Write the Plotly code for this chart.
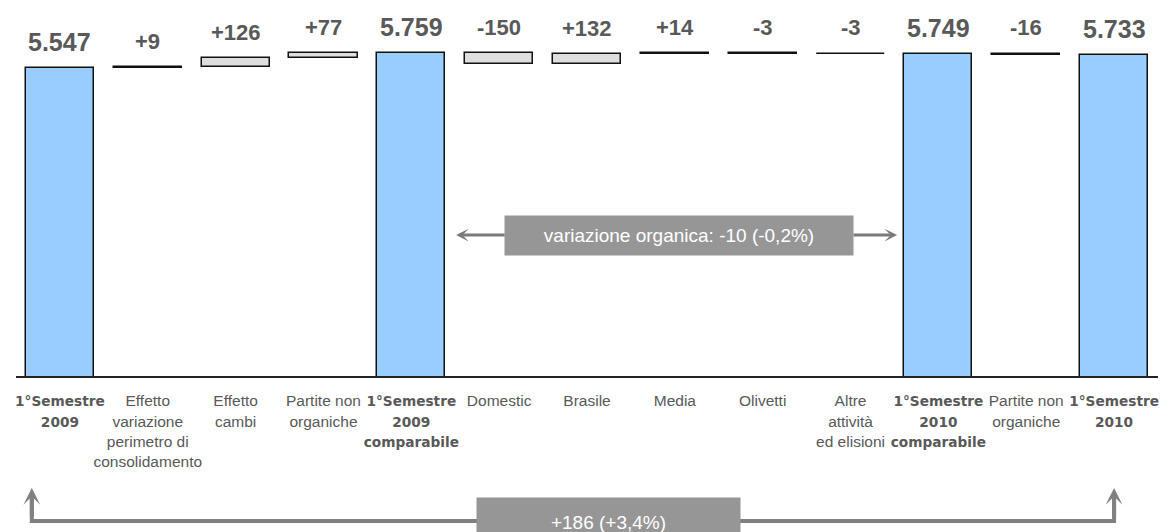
import plotly.graph_objects as go

# Ricavi consolidati: ponte 1° semestre 2009 -> 1° semestre 2010 (milioni di euro)
categories = [
    "1°Semestre<br>2009",
    "Effetto<br>variazione<br>perimetro di<br>consolidamento",
    "Effetto<br>cambi",
    "Partite non<br>organiche",
    "1°Semestre<br>2009<br>comparabile",
    "Domestic",
    "Brasile",
    "Media",
    "Olivetti",
    "Altre<br>attività<br>ed elisioni",
    "1°Semestre<br>2010<br>comparabile",
    "Partite non<br>organiche",
    "1°Semestre<br>2010",
]
values = [5547, 9, 126, 77, 5759, -150, 132, 14, -3, -3, 5749, -16, 5733]
is_total = [True, False, False, False, True, False, False, False, False, False, True, False, True]

TEXT_GREY = "#595959"
TOTAL_FILL = "#99ccff"
DELTA_FILL = "#dedede"

# floating bars: totals start from zero, deltas start from the running level
bases, tops, labels = [], [], []
running = 0
for v, tot in zip(values, is_total):
    if tot:
        bases.append(0)
        running = v
        tops.append(v)
        labels.append(f"{v:,}".replace(",", "."))
    else:
        bases.append(running)
        tops.append(max(running, running + v))
        running += v
        labels.append(f"{v:+d}")

x = list(range(len(values)))


def bold_label(lbl):
    return "<br>".join(
        f'<span style="font-family:DejaVu Sans;font-weight:bold;font-size:13.7px">{part}</span>'
        for part in lbl.split("<br>")
    )


ticktext = [bold_label(c) if t else c for c, t in zip(categories, is_total)]

fig = go.Figure()
fig.add_trace(go.Bar(
    x=x,
    y=values,
    base=bases,
    width=0.775,
    marker=dict(
        color=[TOTAL_FILL if t else DELTA_FILL for t in is_total],
        line=dict(color="#111111", width=1.5),
    ),
    hoverinfo="skip",
))

# value labels above each bar
for i, (lbl, top, tot) in enumerate(zip(labels, tops, is_total)):
    fig.add_annotation(
        x=i, y=top, xref="x", yref="y",
        text=f"<b>{lbl}</b>",
        showarrow=False, yanchor="middle", yshift=26,
        font=dict(family="Liberation Sans", size=25 if tot else 22, color=TEXT_GREY),
    )

# organic change between the two comparable totals
i_c09, i_c10 = 4, 10
organic = values[i_c10] - values[i_c09]
organic_pct = organic / values[i_c09] * 100
organic_txt = f"variazione organica: {organic:+d} ({organic_pct:+.1f}%)".replace(".", ",")

ARROW_GREY = "#7a7a7a"
mid_y = 0.385
fig.add_annotation(
    x=7.05, y=mid_y, xref="x", yref="paper", yanchor="middle", xanchor="center",
    text=organic_txt, showarrow=False,
    width=346, height=37, bgcolor="#969696",
    font=dict(family="Liberation Sans", size=19, color="white"),
)
fig.add_annotation(
    x=4.51, y=mid_y, xref="x", yref="paper",
    ax=50, ay=0, axref="pixel", ayref="pixel",
    text="", showarrow=True, arrowhead=3, arrowsize=0.7,
    arrowwidth=3, arrowcolor=ARROW_GREY,
)
fig.add_annotation(
    x=9.53, y=mid_y, xref="x", yref="paper",
    ax=-45, ay=0, axref="pixel", ayref="pixel",
    text="", showarrow=True, arrowhead=3, arrowsize=0.7,
    arrowwidth=3, arrowcolor=ARROW_GREY,
)

# overall change bracket below the category labels
total_change = values[-1] - values[0]
total_pct = total_change / values[0] * 100
total_txt = f"{total_change:+d} ({total_pct:+.1f}%)".replace(".", ",")

br_left, br_right = -0.32, 12
br_line_y, br_tip_y = -0.396, -0.306
fig.add_shape(
    type="path", xref="x", yref="paper",
    path=f"M {br_left},{br_tip_y - 0.02} L {br_left},{br_line_y} "
         f"L {br_right},{br_line_y} L {br_right},{br_tip_y - 0.02}",
    line=dict(color="#808080", width=4),
)
for bx in (br_left, br_right):
    fig.add_annotation(
        x=bx, y=br_tip_y, xref="x", yref="paper",
        ax=0, ay=30, axref="pixel", ayref="pixel",
        text="", showarrow=True, arrowhead=3, arrowsize=0.7,
        arrowwidth=4, arrowcolor="#808080",
    )
fig.add_annotation(
    x=6.24, y=-0.399, xref="x", yref="paper", yanchor="middle", xanchor="center",
    text=total_txt, showarrow=False,
    width=261, height=46, bgcolor="#969696",
    font=dict(family="Liberation Sans", size=19, color="white"),
)

fig.update_layout(
    width=1170, height=532,
    margin=dict(l=16, r=12, t=10, b=156),
    paper_bgcolor="white", plot_bgcolor="white",
    showlegend=False,
    bargap=0,
)
fig.update_xaxes(
    range=[-0.5, len(values) - 0.5],
    tickmode="array", tickvals=x, ticktext=ticktext,
    tickfont=dict(family="Liberation Sans", size=15.5, color=TEXT_GREY),
    tickangle=0, automargin=False,
    ticks="", ticklabelstandoff=10,
    showline=True, linecolor="#222222", linewidth=1.5,
    showgrid=False, zeroline=False, fixedrange=True,
)
fig.update_yaxes(
    range=[1170, 6370], visible=False, showgrid=False, zeroline=False, fixedrange=True,
)

fig.write_html("out.html")
